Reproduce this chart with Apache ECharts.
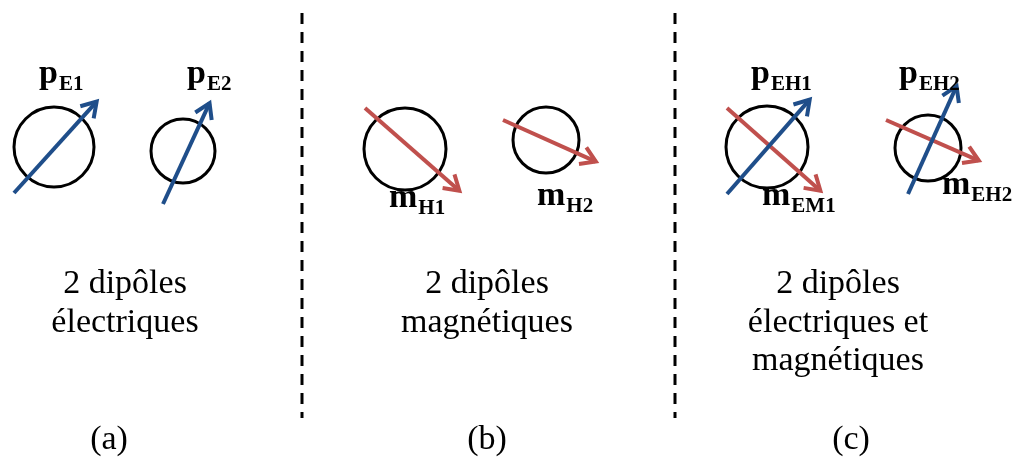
<!DOCTYPE html>
<html><head><meta charset="utf-8">
<script src="https://cdn.jsdelivr.net/npm/echarts@6/dist/echarts.min.js"></script>
<style>html,body{margin:0;padding:0;background:#fff}#c{width:1016px;height:465px}</style>
</head><body><div id="c"></div>
<script>
// Diagram values in axis units (x: 0..1016, y: 0..465 downwards)
const circles = [[54,147,40],[183,151,32],[405,149,41],[546,140,33],[767,147,41],[928,148,33]];
const electricArrows = [[14,193,99,99],[163,204,211,100],[727,194,812,97],[908,194,958,83]];
const magneticArrows = [[365,108,462,193],[503,120,599,163],[727,108,823,193],[886,120,982,162]];
const separators = [[302,13,418],[675,13,418]];
const momentSymbols = ['p','p','m','m','p','p','m','m'];
const momentSubscripts = ['E1','E2','H1','H2','EH1','EH2','EM1','EH2'];
const momentAnchors = [[39,86],[187,86],[389,210],[537,208],[751,86],[899,86],[762,208],[942,197]];
const descriptions = ['2 dipôles\nélectriques','2 dipôles\nmagnétiques','2 dipôles\nélectriques et\nmagnétiques'];
const descriptionAnchors = [[125,296],[487,296],[838,296]];
const panelLabels = ['(a)','(b)','(c)'];
const panelAnchors = [[109,440],[487,440],[851,440]];

const SERIF = '"Liberation Serif", "Times New Roman", serif';
const BLUE = '#1F4E8A', RED = '#C0504D';

function arrowRenderer(color){
  return function(params, api){
    const a = api.coord([api.value(0), api.value(1)]);
    const b0 = api.coord([api.value(2), api.value(3)]);
    const ang = Math.atan2(b0[1]-a[1], b0[0]-a[0]);
    const b = [b0[0]-3.5*Math.cos(ang), b0[1]-3.5*Math.sin(ang)];
    const L = 17, h = 32*Math.PI/180;
    const p1 = [b[0]-L*Math.cos(ang-h), b[1]-L*Math.sin(ang-h)];
    const p2 = [b[0]-L*Math.cos(ang+h), b[1]-L*Math.sin(ang+h)];
    return {type:'group', children:[
      {type:'line', shape:{x1:a[0],y1:a[1],x2:b[0],y2:b[1]}, style:{stroke:color, lineWidth:4, lineCap:'butt'}},
      {type:'polyline', shape:{points:[p1,b,p2]}, style:{stroke:color, lineWidth:4, fill:null, lineJoin:'miter'}}
    ]};
  };
}

const chart = echarts.init(document.getElementById('c'), null, {renderer:'canvas'});
chart.setOption({
  animation:false,
  backgroundColor:'#fff',
  grid:{left:0,right:0,top:0,bottom:0},
  xAxis:{type:'value',min:0,max:1016,show:false},
  yAxis:{type:'value',min:0,max:465,inverse:true,show:false},
  series:[
    {type:'custom', coordinateSystem:'cartesian2d', clip:false, data:separators,
     renderItem:(params, api)=>{
       const t = api.coord([api.value(0), api.value(1)]);
       const b = api.coord([api.value(0), api.value(2)]);
       return {type:'line', shape:{x1:t[0],y1:t[1],x2:b[0],y2:b[1]}, style:{stroke:'#000', lineWidth:3, lineDash:[11,8]}};
     }},
    {type:'custom', coordinateSystem:'cartesian2d', clip:false, data:circles,
     renderItem:(params, api)=>{
       const c = api.coord([api.value(0), api.value(1)]);
       const r = api.size([api.value(2), 0])[0];
       return {type:'circle', shape:{cx:c[0], cy:c[1], r:r}, style:{fill:null, stroke:'#000', lineWidth:3}};
     }},
    {type:'custom', coordinateSystem:'cartesian2d', clip:false, data:magneticArrows, renderItem:arrowRenderer(RED)},
    {type:'custom', coordinateSystem:'cartesian2d', clip:false, data:electricArrows, renderItem:arrowRenderer(BLUE)},
    {type:'custom', coordinateSystem:'cartesian2d', clip:false, data:momentAnchors,
     renderItem:(params, api)=>{
       const i = params.dataIndex;
       const p = api.coord([api.value(0), api.value(1)]);
       return {type:'text', x:p[0], y:p[1]-11.5, style:{
         text:'{m|'+momentSymbols[i]+'}{s|'+momentSubscripts[i]+'}',
         align:'left', verticalAlign:'middle',
         rich:{
           m:{fontSize:34, fontWeight:'bold', fontFamily:SERIF, fill:'#000'},
           s:{fontSize:21, fontWeight:'bold', fontFamily:SERIF, fill:'#000', padding:[21,0,0,1]}
         }
       }};
     }},
    {type:'custom', coordinateSystem:'cartesian2d', clip:false, data:descriptionAnchors,
     renderItem:(params, api)=>{
       const i = params.dataIndex;
       const p = api.coord([api.value(0), api.value(1)]);
       return {type:'text', x:p[0], y:p[1]-30.7, style:{
         text:descriptions[i], align:'center', verticalAlign:'top', lineHeight:38.5,
         fontSize:34, fontFamily:SERIF, fill:'#000'
       }};
     }},
    {type:'custom', coordinateSystem:'cartesian2d', clip:false, data:panelAnchors,
     renderItem:(params, api)=>{
       const i = params.dataIndex;
       const p = api.coord([api.value(0), api.value(1)]);
       return {type:'text', x:p[0], y:p[1], style:{
         text:panelLabels[i], align:'center', verticalAlign:'middle',
         fontSize:34, fontFamily:SERIF, fill:'#000'
       }};
     }}
  ]
});
</script></body></html>
